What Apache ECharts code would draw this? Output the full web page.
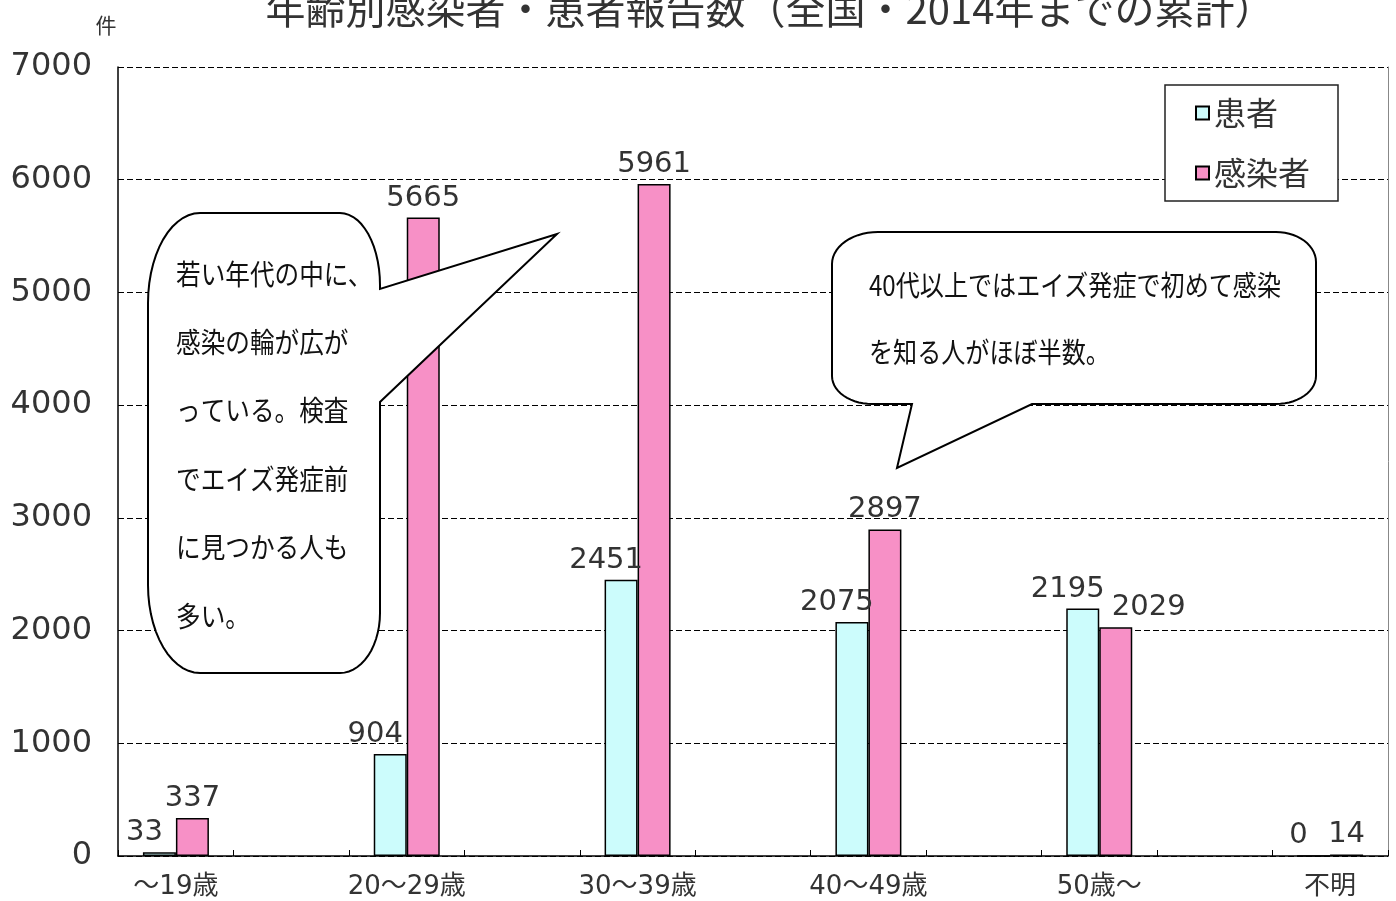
<!DOCTYPE html>
<html>
<head>
<meta charset="utf-8">
<title>年齢別感染者・患者報告数</title>
<script src="https://cdn.jsdelivr.net/npm/echarts@6/dist/echarts.min.js"></script>
<style>
  html, body { margin: 0; padding: 0; background: #fff; }
  #chart { width: 1396px; height: 901px; }
</style>
</head>
<body>
<div id="chart"></div>
<script>
// データ
const categories = ['～19歳', '20～29歳', '30～39歳', '40～49歳', '50歳～', '不明']
const patients = [33, 904, 2451, 2075, 2195, 0] // 患者
const infected = [337, 5665, 5961, 2897, 2029, 14] // 感染者
const seriesNames = ['患者', '感染者']
const titleText = '年齢別感染者・患者報告数（全国・2014年までの累計）'
const note1 = ['若い年代の中に、', '感染の輪が広が', 'っている。検査', 'でエイズ発症前', 'に見つかる人も', '多い。']
const note2 = ['40代以上ではエイズ発症で初めて感染', 'を知る人がほぼ半数。']

const FONT = '"DejaVu Sans", "Noto Sans CJK JP", sans-serif'
const JP = '"Noto Sans CJK JP", sans-serif'

// 楕円の角 (吹き出しの形)
function corner (cx, cy, rx, ry, a0, a1) {
  const pts = []
  const n = 14
  for (let i = 0; i <= n; i++) {
    const a = a0 + (a1 - a0) * i / n
    pts.push([cx + rx * Math.cos(a), cy + ry * Math.sin(a)])
  }
  return pts
}
const P = Math.PI

// 左の吹き出し: 右側にしっぽ
function bubble1 () {
  const L = 148, T = 213, R = 380, B = 673
  return [].concat(
    corner(L + 52, T + 90, 52, 90, P, 1.5 * P),
    corner(R - 40, T + 72, 40, 72, 1.5 * P, 2 * P),
    [[R, 289], [557, 234], [R, 402]],
    corner(R - 40, B - 60, 40, 60, 0, 0.5 * P),
    corner(L + 52, B - 88, 52, 88, 0.5 * P, P)
  )
}
// 右の吹き出し: 下側にしっぽ
function bubble2 () {
  const L = 832, T = 232, R = 1316, B = 404
  return [].concat(
    corner(L + 46, T + 32, 46, 32, P, 1.5 * P),
    corner(R - 40, T + 30, 40, 30, 1.5 * P, 2 * P),
    corner(R - 40, B - 28, 40, 28, 0, 0.5 * P),
    [[1032, B], [897, 468], [912, B]],
    corner(L + 40, B - 28, 40, 28, 0.5 * P, P)
  )
}

const graphics = [
  {
    type: 'text', x: 770, y: 9, z: 100,
    style: { text: titleText, align: 'center', verticalAlign: 'middle', fontSize: 40, fontFamily: JP, fill: '#333' }
  },
  {
    type: 'text', x: 106, y: 25, z: 100,
    style: { text: '件', align: 'center', verticalAlign: 'middle', fontSize: 21, fontFamily: JP, fill: '#333' }
  },
  {
    type: 'polygon', z: 100,
    shape: { points: bubble1() },
    style: { fill: '#fff', stroke: '#000', lineWidth: 2 }
  },
  {
    type: 'polygon', z: 100,
    shape: { points: bubble2() },
    style: { fill: '#fff', stroke: '#000', lineWidth: 2 }
  }
]
note1.forEach((t, i) => {
  graphics.push({
    type: 'text', x: 176, y: 274 + i * 68.4, z: 101, scaleX: 0.88,
    style: { text: t, verticalAlign: 'middle', fontSize: 28, fontFamily: JP, fill: '#111' }
  })
})
note2.forEach((t, i) => {
  graphics.push({
    type: 'text', x: 869, y: 285 + i * 67, z: 101, scaleX: 0.86,
    style: { text: t, verticalAlign: 'middle', fontSize: 28, fontFamily: JP, fill: '#111' }
  })
})

const labelStyle = {
  show: true,
  position: 'top',
  distance: 5,
  fontSize: 29,
  fontFamily: FONT,
  color: '#333'
}

const chart = echarts.init(document.getElementById('chart'))
const option = {
  animation: false,
  backgroundColor: '#fff',
  legend: {
    data: seriesNames,
    orient: 'vertical',
    left: 1165,
    top: 85,
    padding: [12, 28, 12, 30],
    itemGap: 28,
    itemWidth: 13,
    itemHeight: 13,
    icon: 'rect',
    backgroundColor: '#fff',
    borderColor: '#222',
    borderWidth: 1.5,
    borderRadius: 0,
    textStyle: { fontSize: 32, fontFamily: JP, color: '#333' },
    z: 50
  },
  grid: [
    { left: 118, top: 67, width: 1270, height: 789 }, // 枠
    { left: 60.5, top: 67, width: 1385, height: 789, outerBoundsMode: 'none' } // 棒
  ],
  xAxis: [
    {
      gridIndex: 0,
      type: 'value',
      min: 0,
      max: 11,
      interval: 1,
      axisLine: { show: true, lineStyle: { color: '#000', width: 1.5 } },
      axisTick: { show: true, inside: true, length: 6, lineStyle: { color: '#000' } },
      axisLabel: { show: false },
      splitLine: { show: false }
    },
    {
      gridIndex: 1,
      type: 'category',
      data: categories,
      axisLine: { show: false },
      axisTick: { show: false },
      axisLabel: { fontSize: 26, fontFamily: FONT, color: '#333', margin: 18 }
    }
  ],
  yAxis: [
    {
      gridIndex: 0,
      type: 'value',
      min: 0,
      max: 7000,
      interval: 1000,
      axisLine: { show: true, lineStyle: { color: '#000', width: 1.5 } },
      axisTick: { show: false },
      axisLabel: { fontSize: 32, fontFamily: FONT, color: '#333', margin: 26, formatter: v => String(v) },
      splitLine: { show: true, lineStyle: { color: '#000', width: 1.2, type: [6, 3] } }
    },
    {
      gridIndex: 0,
      type: 'value',
      position: 'right',
      min: 0,
      max: 7000,
      interval: 1000,
      axisLine: { show: true, lineStyle: { color: '#888', width: 1 } },
      axisTick: { show: false },
      axisLabel: { show: false },
      splitLine: { show: false }
    },
    {
      gridIndex: 1,
      type: 'value',
      min: 0,
      max: 7000,
      show: false
    }
  ],
  series: [
    {
      name: seriesNames[0],
      type: 'bar',
      xAxisIndex: 1,
      yAxisIndex: 2,
      barWidth: 33,
      barGap: '0%',
      itemStyle: { color: '#ccfcfc', borderColor: '#000', borderWidth: 1.5 },
      label: Object.assign({}, labelStyle, { offset: [-15, 0] }),
      data: patients
    },
    {
      name: seriesNames[1],
      type: 'bar',
      xAxisIndex: 1,
      yAxisIndex: 2,
      barWidth: 33,
      barGap: '0%',
      itemStyle: { color: '#f790c6', borderColor: '#000', borderWidth: 1.5 },
      label: labelStyle,
      // 50歳～ のラベルだけ右にずらす
      data: infected.map((v, i) => i === 4 ? { value: v, label: { offset: [33, 0] } } : v)
    }
  ],
  graphic: graphics
}
chart.setOption(option)
</script>
</body>
</html>
